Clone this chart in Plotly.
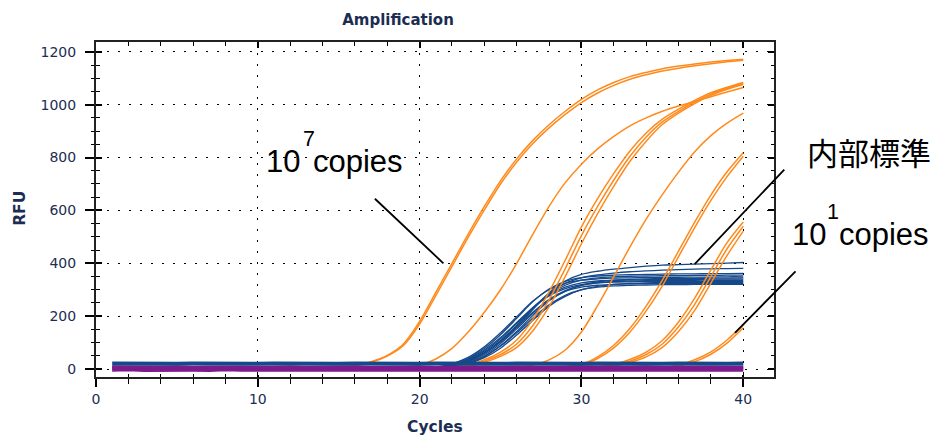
import plotly.graph_objects as go

# ---------------- data ----------------
cycles = list(range(1, 41))

# target (orange) amplification curves, 10^7 ... 10^1 copies
tgt_1e7_a = [6,5,6,7,6,5,6,6,7,6,5,6,7,6,8,12,28,52,95,180,290,400,510,615,712,795,865,924,975,1020,1056,1084,1106,1122,1136,1146,1154,1161,1167,1172]
tgt_1e7_b = [5,6,6,5,7,6,5,6,6,7,6,5,6,7,9,13,26,49,89,170,278,388,498,602,700,783,853,912,963,1008,1044,1073,1096,1113,1127,1138,1147,1155,1162,1168]
tgt_1e6 = [6,5,7,6,5,6,6,7,5,6,6,5,7,6,5,6,7,6,8,15,38,78,140,215,300,400,510,615,705,775,833,880,920,950,975,995,1012,1030,1048,1065]
tgt_1e5_a = [5,6,6,7,5,6,5,6,7,6,5,6,6,7,5,6,6,5,7,6,6,7,12,30,55,95,165,262,380,505,615,715,805,878,935,975,1010,1040,1062,1080]
tgt_1e5_b = [6,5,6,6,7,5,6,6,5,7,6,6,5,6,7,6,5,6,6,7,6,8,15,35,64,110,188,292,412,538,645,740,825,893,945,983,1016,1045,1066,1084]
tgt_1e5_c = [6,6,5,6,6,7,5,6,6,5,7,6,6,5,6,7,6,6,5,6,7,6,10,26,48,82,145,236,350,474,588,692,786,862,925,968,1004,1035,1058,1076]
tgt_1e4 = [5,6,6,7,6,5,6,7,6,5,6,6,7,6,5,6,6,7,5,6,6,5,7,6,6,7,15,35,72,140,240,350,462,567,660,745,822,883,930,968]
tgt_1e3_a = [6,5,6,6,7,6,5,6,6,7,5,6,6,7,6,5,6,6,7,6,5,6,7,6,6,5,7,6,8,15,40,80,140,220,315,425,535,638,728,805]
tgt_1e3_b = [5,6,6,7,6,5,6,7,6,5,6,6,7,5,6,6,7,6,5,6,6,7,6,5,6,6,7,5,9,18,46,90,154,238,336,446,556,658,746,818]
tgt_1e2_a = [6,6,5,7,6,6,5,6,7,6,5,6,6,7,6,5,6,7,6,6,5,6,7,6,5,6,6,7,6,5,7,15,30,55,95,160,245,350,455,540]
tgt_1e2_b = [5,6,6,5,7,6,6,5,6,7,6,5,6,6,7,6,5,6,7,6,6,5,6,7,6,5,6,6,7,6,8,18,36,64,108,178,268,375,478,556]
tgt_1e2_c = [6,5,6,6,5,7,6,6,5,6,7,6,5,6,6,7,6,5,6,7,6,6,5,6,7,6,5,6,6,7,7,12,25,46,82,142,222,325,430,522]
tgt_1e1_a = [6,6,5,6,7,6,5,6,6,7,6,5,6,7,6,6,5,6,7,6,5,6,6,7,6,5,6,7,6,6,5,6,7,6,6,15,35,65,110,168]
tgt_1e1_b = [5,6,6,7,6,5,6,6,7,5,6,6,7,6,5,6,6,7,6,5,6,7,6,6,5,6,7,6,5,6,6,7,6,5,6,12,28,56,98,156]

# internal standard (blue) curves
ic_01 = [3,2,3,3,2,3,2,3,3,2,3,2,3,3,2,3,2,3,3,4,6,14,30,60,102,158,225,288,333,358,370,378,384,389,393,395,397,399,401,403]
ic_02 = [2,3,2,3,3,2,3,3,2,3,2,3,3,2,3,3,2,3,2,3,5,15,33,63,108,165,230,286,324,345,356,363,368,371,374,376,378,379,380,381]
ic_03 = [3,3,2,2,3,3,2,3,2,3,3,2,3,2,3,2,3,3,2,4,6,18,40,78,130,192,255,303,332,346,352,355,357,358,359,360,360,361,361,362]
ic_04 = [2,2,3,3,2,3,3,2,3,2,3,3,2,3,2,3,3,2,3,3,4,12,30,60,105,165,230,283,317,336,345,349,351,352,353,353,354,354,355,355]
ic_05 = [3,2,3,2,3,2,3,3,2,3,3,2,3,3,2,3,2,3,3,4,7,20,44,84,137,198,257,300,324,336,341,344,345,346,347,347,348,348,349,349]
ic_06 = [2,3,3,2,3,3,2,2,3,3,2,3,2,3,3,2,3,2,3,2,3,9,23,48,88,142,203,258,295,318,330,336,339,341,342,343,343,344,344,345]
ic_07 = [3,2,2,3,3,2,3,3,2,3,2,3,3,2,3,3,2,3,2,3,5,15,35,68,115,173,233,281,310,326,333,336,337,338,338,339,339,340,340,340]
ic_08 = [2,3,2,3,2,3,3,2,3,3,2,2,3,3,2,3,3,2,3,3,4,11,27,54,96,152,211,263,297,316,326,331,333,334,335,335,336,336,336,336]
ic_09 = [3,3,2,3,2,3,2,3,3,2,3,3,2,3,2,3,2,3,3,4,6,17,38,72,119,176,232,277,304,319,326,329,330,331,331,331,332,332,332,332]
ic_10 = [2,2,3,2,3,3,2,3,2,3,3,2,3,2,3,3,2,3,2,3,3,8,20,43,79,129,185,238,275,300,313,320,324,326,327,327,328,328,328,328]
ic_11 = [3,2,3,3,2,2,3,3,2,3,2,3,3,2,3,2,3,3,2,3,5,13,31,60,104,159,215,263,294,310,317,320,322,323,323,324,324,324,324,324]
ic_12 = [2,3,3,2,3,2,3,2,3,3,2,3,2,3,3,2,3,2,3,3,4,10,24,48,87,137,193,243,279,300,310,315,317,318,319,319,320,320,320,320]

# flat internal-standard-only wells (blue) and no-template wells (purple)
flat_blue = [21,20,21,20,20,21,20,21,20,20,21,20,21,20,20,21,20,21,20,20,21,20,21,20,20,21,20,21,20,20,21,20,21,20,20,21,20,21,20,21]
ntc_a = [4,2,3,4,3,2,4,3,3,2,4,3,2,3,4,3,2,3,4,3,2,3,4,2,3,3,4,2,3,4,3,2,3,4,3,2,3,3,4,3]
ntc_b = [-4,-3,-5,-4,-3,-4,-5,-3,-4,-4,-3,-5,-4,-3,-4,-5,-4,-3,-4,-5,-3,-4,-4,-5,-3,-4,-5,-4,-3,-4,-5,-4,-4,-3,-5,-4,-3,-4,-5,-4]
ntc_c = [9,8,7,8,9,7,8,9,8,7,8,9,7,8,8,9,7,8,9,8,7,8,9,8,7,9,8,7,8,9,8,7,8,9,7,8,9,8,7,8]

x_ticks = [0, 10, 20, 30, 40]
y_ticks = [0, 200, 400, 600, 800, 1000, 1200]

# ---------------- figure ----------------
ORANGE = "#ff8a1c"
BLUE = "#15498a"
PURPLE = "#7d1a8c"
NAVY = "#1c2d52"

fig = go.Figure()

for ys in [ic_01, ic_02, ic_03, ic_04, ic_05, ic_06, ic_07, ic_08, ic_09, ic_10, ic_11, ic_12]:
    fig.add_trace(go.Scatter(x=cycles, y=ys, mode="lines",
                             line=dict(color=BLUE, width=1.3, shape="spline", smoothing=0.8),
                             hoverinfo="skip", showlegend=False))

for ys in [tgt_1e7_a, tgt_1e7_b, tgt_1e6, tgt_1e5_a, tgt_1e5_b, tgt_1e5_c, tgt_1e4,
           tgt_1e3_a, tgt_1e3_b, tgt_1e2_a, tgt_1e2_b, tgt_1e2_c, tgt_1e1_a, tgt_1e1_b]:
    fig.add_trace(go.Scatter(x=cycles, y=ys, mode="lines",
                             line=dict(color=ORANGE, width=1.5, shape="spline", smoothing=0.8),
                             hoverinfo="skip", showlegend=False))

for ys in [ntc_a, ntc_b, ntc_c]:
    fig.add_trace(go.Scatter(x=cycles, y=ys, mode="lines",
                             line=dict(color=PURPLE, width=3),
                             hoverinfo="skip", showlegend=False))

fig.add_trace(go.Scatter(x=cycles, y=flat_blue, mode="lines",
                         line=dict(color=BLUE, width=4),
                         hoverinfo="skip", showlegend=False))

# helper traces so the overlay tick axes get drawn
fig.add_trace(go.Scatter(x=[None], y=[None], xaxis="x2", yaxis="y2", showlegend=False, hoverinfo="skip"))
fig.add_trace(go.Scatter(x=[None], y=[None], xaxis="x3", yaxis="y3", showlegend=False, hoverinfo="skip"))

XR = [0, 41.9]
YR = [-30, 1237]
tickfont = dict(family="DejaVu Sans", size=14, color=NAVY)

fig.update_layout(
    width=937, height=439,
    margin=dict(l=96, r=163, t=42, b=62),
    paper_bgcolor="white", plot_bgcolor="white",
    title=dict(text="<b>Amplification</b>", x=398 / 937, xanchor="center",
               y=1 - 20 / 439, yanchor="middle",
               font=dict(family="DejaVu Sans", size=15, color=NAVY)),
    xaxis=dict(range=XR, tickvals=x_ticks, ticks="outside", ticklen=8, tickwidth=1.5,
               tickcolor="black", tickfont=tickfont,
               minor=dict(dtick=2, tick0=0, ticks="outside", ticklen=5, tickwidth=1.3,
                          tickcolor="black", showgrid=False),
               showline=True, linecolor="#222222", linewidth=2, mirror=True,
               showgrid=True, gridcolor="black", gridwidth=1.4, griddash="2px,9px",
               zeroline=False),
    yaxis=dict(range=YR, tickvals=y_ticks, ticks="outside", ticklen=9, tickwidth=1.5,
               tickcolor="black", tickfont=tickfont, ticklabelstandoff=6,
               minor=dict(dtick=50, tick0=0, ticks="outside", ticklen=3, tickwidth=1.3,
                          tickcolor="black", showgrid=False),
               showline=True, linecolor="#222222", linewidth=2, mirror=True,
               showgrid=True, gridcolor="black", gridwidth=1.4, griddash="2px,9px",
               zeroline=False),
    xaxis2=dict(range=XR, overlaying="x", side="top", anchor="y2",
                tickvals=x_ticks, ticks="inside", ticklen=6, tickwidth=1.5, tickcolor="black",
                minor=dict(dtick=2, tick0=0, ticks="inside", ticklen=4, tickwidth=1.3, tickcolor="black"),
                showticklabels=False, showgrid=False, zeroline=False, showline=False),
    yaxis2=dict(range=YR, overlaying="y", side="right", anchor="x2",
                tickvals=y_ticks, ticks="inside", ticklen=6, tickwidth=1.5, tickcolor="black",
                minor=dict(dtick=50, tick0=0, ticks="inside", ticklen=3, tickwidth=1.3, tickcolor="black"),
                showticklabels=False, showgrid=False, zeroline=False, showline=False),
    xaxis3=dict(range=XR, overlaying="x", side="bottom", anchor="y3",
                tickvals=x_ticks, ticks="inside", ticklen=2, tickwidth=1.5, tickcolor="black",
                minor=dict(dtick=2, tick0=0, ticks="inside", ticklen=3, tickwidth=1.3, tickcolor="black"),
                showticklabels=False, showgrid=False, zeroline=False, showline=False),
    yaxis3=dict(range=YR, overlaying="y", side="left", anchor="x3",
                tickvals=y_ticks, ticks="inside", ticklen=6, tickwidth=1.5, tickcolor="black",
                minor=dict(dtick=50, tick0=0, ticks="inside", ticklen=4, tickwidth=1.3, tickcolor="black"),
                showticklabels=False, showgrid=False, zeroline=False, showline=False),
)

big = dict(family="Liberation Sans, Arial", size=31, color="black")
small = dict(family="Liberation Sans, Arial", size=21.5, color="black")


def label(text, x, y, font):
    return dict(text=text, xref="paper", yref="paper", x=x, y=y,
                xanchor="left", yanchor="middle", showarrow=False, font=font)


annotations = [
    # axis titles
    dict(text="<b>Cycles</b>", xref="paper", yref="paper", x=0.5, y=-0.149,
         xanchor="center", yanchor="middle", showarrow=False,
         font=dict(family="DejaVu Sans", size=15.5, color=NAVY)),
    dict(text="<b>RFU</b>", xref="paper", yref="paper", x=-0.1116, y=0.503,
         xanchor="center", yanchor="middle", showarrow=False, textangle=-90,
         font=dict(family="DejaVu Sans", size=15.5, color=NAVY)),
    # "10^7 copies"
    label("10", 0.2471, 0.6436, big),
    label("7", 0.3019, 0.7104, small),
    label("copies", 0.3167, 0.6436, big),
    # 内部標準
    label("内部標準", 1.045, 0.672, dict(family="Noto Sans CJK JP", size=31, color="black")),
    # "10^1 copies"
    label("10", 1.0236, 0.4239, big),
    label("1", 1.0753, 0.4937, small),
    label("copies", 1.093, 0.4239, big),
    # pointer lines (head at curve, tail offset in pixels)
    dict(text="", x=21.47, y=400, xref="x", yref="y", ax=-70, ay=-66,
         showarrow=True, arrowhead=0, arrowwidth=1.8, arrowcolor="black", font=dict(size=1)),
    dict(text="", x=37.0, y=397, xref="x", yref="y", ax=91, ay=-96,
         showarrow=True, arrowhead=0, arrowwidth=1.8, arrowcolor="black", font=dict(size=1)),
    dict(text="", x=39.49, y=137, xref="x", yref="y", ax=62, ay=-63,
         showarrow=True, arrowhead=0, arrowwidth=1.8, arrowcolor="black", font=dict(size=1)),
]
fig.update_layout(annotations=annotations)

fig.write_html(
    "out.html",
    config={"displayModeBar": False},
    post_script="document.body.style.margin='0';document.body.style.overflow='hidden';",
)
